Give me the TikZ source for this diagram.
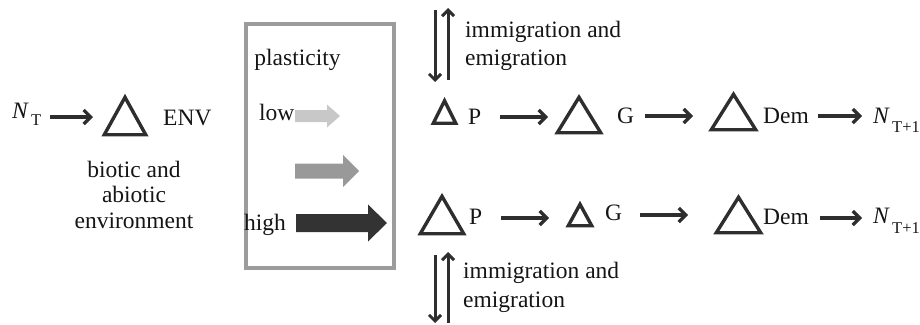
\documentclass[tikz,border=0pt]{standalone}
\usepackage{fontspec}
\setmainfont{Liberation Serif}
\usetikzlibrary{arrows.meta}
\definecolor{ink}{HTML}{151515}
\definecolor{linec}{HTML}{2E2E2E}
\definecolor{boxc}{HTML}{9C9C9C}
\definecolor{lightA}{HTML}{C8C8C8}
\definecolor{midA}{HTML}{999999}
\definecolor{darkA}{HTML}{333333}
\tikzset{
  txt/.style={inner sep=0pt, anchor=base west, text=ink, font=\fontsize{23.5}{28}\selectfont},
  ctxt/.style={inner sep=0pt, anchor=base, text=ink, font=\fontsize{23.5}{28}\selectfont},
  subtxt/.style={inner sep=0pt, anchor=base west, text=ink, font=\fontsize{16.5}{18}\selectfont},
  tribox/.style={draw=none, inner sep=0pt, rectangle},
  tri/.style={draw=linec, line width=3.4pt, line join=miter},
  arr/.style={draw=linec, line width=3.2pt, -{Straight Barb[length=7pt,width=14pt,line width=3.2pt]}},
  varr/.style={draw=linec, line width=3pt, -{Straight Barb[length=6pt,width=12pt,line width=3pt]}},
}
\newcommand{\mytri}[1]{\draw[tri] (#1.south west) -- (#1.north) -- (#1.south east) -- cycle;}
\begin{document}
\begin{tikzpicture}[x=1pt,y=-1pt]
\useasboundingbox (0,0) rectangle (920,324);
% plasticity box
\node[draw=boxc, line width=3.6pt, minimum width=148pt, minimum height=244pt, inner sep=0pt] (pbox) at (320,146) {};
\node[ctxt] (plast) at (297.5,65) {plasticity};
\node[txt] (low) at (259,120) {low};
\node[txt] (high) at (244,230) {high};
% block arrows
\fill[lightA] (295,110) -- (327,110) -- (327,104.5) -- (340,116) -- (327,127.5) -- (327,122) -- (295,122) -- cycle;
\fill[midA] (295,163.5) -- (343,163.5) -- (343,155) -- (359,171) -- (343,187) -- (343,178.5) -- (295,178.5) -- cycle;
\fill[darkA] (296,214) -- (368,214) -- (368,204.5) -- (387,223) -- (368,241.5) -- (368,232) -- (296,232) -- cycle;

% N_T and ENV
\node[txt] (NT) at (12,118) {\itshape N};
\node[subtxt] (NTs) at (31,125) {T};
\node[tribox, minimum width=41pt, minimum height=37pt] (envT) at (125,116) {};
\mytri{envT}
\node[txt] (env) at (163,125) {ENV};
\node[ctxt] (bio1) at (134,177) {biotic and};
\node[ctxt] (bio2) at (134,202) {abiotic};
\node[ctxt] (bio3) at (134,228) {environment};
\coordinate (a1s) at (50,117); \coordinate (a1e) at (93,117);
\draw[arr] (a1s) -- (a1e);

% top immigration
\coordinate (t1a) at (435,10); \coordinate (t1b) at (435,82);
\coordinate (t2a) at (448,80); \coordinate (t2b) at (448,8);
\draw[varr] (t1a) -- (t1b);
\draw[varr] (t2a) -- (t2b);
\node[txt] (im1a) at (465,37) {immigration and};
\node[txt] (im1b) at (465,65) {emigration};

% row 1
\node[tribox, minimum width=22pt, minimum height=22pt] (P1t) at (444.5,112) {};
\mytri{P1t}
\node[txt] (P1) at (468,124) {P};
\node[tribox, minimum width=43pt, minimum height=35pt] (G1t) at (579,115) {};
\mytri{G1t}
\node[txt] (G1) at (617,123) {G};
\node[tribox, minimum width=44pt, minimum height=35pt] (D1t) at (733.5,112) {};
\mytri{D1t}
\node[txt] (D1) at (763,123) {Dem};
\node[txt] (N1) at (873,123) {\itshape N};
\node[subtxt] (N1s) at (892,132) {T+1};
\coordinate (r1a) at (500,117); \coordinate (r1b) at (548,117);
\coordinate (r1c) at (645,116); \coordinate (r1d) at (693,116);
\coordinate (r1e) at (818,116); \coordinate (r1f) at (862,116);
\draw[arr] (r1a) -- (r1b);
\draw[arr] (r1c) -- (r1d);
\draw[arr] (r1e) -- (r1f);

% row 2
\node[tribox, minimum width=43pt, minimum height=37pt] (P2t) at (442,215) {};
\mytri{P2t}
\node[txt] (P2) at (469,224) {P};
\node[tribox, minimum width=23pt, minimum height=21pt] (G2t) at (580,215) {};
\mytri{G2t}
\node[txt] (G2) at (605,220) {G};
\node[tribox, minimum width=44pt, minimum height=35pt] (D2t) at (738.5,215) {};
\mytri{D2t}
\node[txt] (D2) at (763,224) {Dem};
\node[txt] (N2) at (873,223) {\itshape N};
\node[subtxt] (N2s) at (892,233) {T+1};
\coordinate (r2a) at (501,218); \coordinate (r2b) at (549,218);
\coordinate (r2c) at (640,215); \coordinate (r2d) at (688,215);
\coordinate (r2e) at (820,218); \coordinate (r2f) at (862,218);
\draw[arr] (r2a) -- (r2b);
\draw[arr] (r2c) -- (r2d);
\draw[arr] (r2e) -- (r2f);

% bottom immigration
\coordinate (b1a) at (435,255); \coordinate (b1b) at (435,323);
\coordinate (b2a) at (448,323); \coordinate (b2b) at (448,252);
\draw[varr] (b1a) -- (b1b);
\draw[varr] (b2a) -- (b2b);
\node[txt] (im2a) at (463,278) {immigration and};
\node[txt] (im2b) at (463,307) {emigration};
\end{tikzpicture}
\end{document}
